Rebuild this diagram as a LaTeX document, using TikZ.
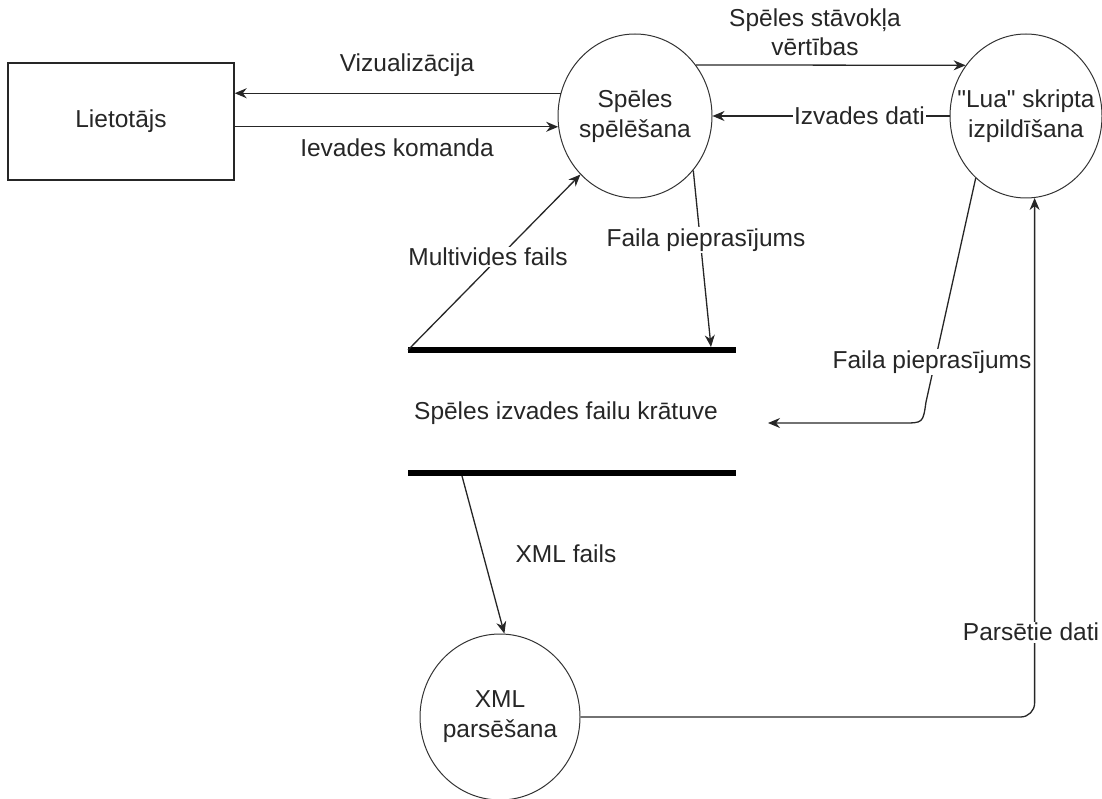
\documentclass[tikz,border=0pt]{standalone}
\usepackage{fontspec}
\newfontfamily\lib{Liberation Sans}
\usetikzlibrary{arrows.meta,shapes.geometric}
\begin{document}
\begin{tikzpicture}[x=1pt,y=-1pt,
  every node/.style={font=\lib\fontsize{24.5}{30}\selectfont, text=black!85},
  proc/.style={draw=black!80, line width=1pt, ellipse, align=center, inner xsep=-50pt, inner ysep=0pt},
  entity/.style={draw=black!85, line width=1.4pt, inner sep=0pt},
  flow/.style={draw=black!85, line width=1.3pt, -{Stealth[length=12pt,width=10pt]}},
  lbl/.style={fill=white, inner sep=1.5pt},
  bar/.style={line width=6pt, draw=black}]
\useasboundingbox (0,0) rectangle (1102,799);

% nodes
\node[entity, minimum width=226pt, minimum height=117pt] (user) at (121,121.5) {Lietotājs};
\node[proc, minimum width=154pt, minimum height=164pt] (play) at (635,116) {Spēles\\spēlēšana};
\node[proc, minimum width=152pt, minimum height=164pt] (lua) at (1026,116) {"Lua" skripta\\izpildīšana};
\node[proc, minimum width=160pt, minimum height=166pt] (xml) at (500,717) {XML\\parsēšana};

% data store
\coordinate (tl) at (408,350);
\coordinate (tr) at (736,350);
\coordinate (bl) at (408,473);
\coordinate (br) at (736,473);
\draw[bar] (tl) -- (tr);
\draw[bar] (bl) -- (br);
\node (store) at (566,413) {Spēles izvades failu krātuve};

\coordinate (fp1) at (711,347);
\coordinate (fp2) at (768,423);
\coordinate (xmlsrc) at (462,476);
\coordinate (fp2bend) at (926,402);

% connectors
\draw[flow] (play.163) -- (play.163 -| user.east);
\node at (407,65) {Vizualizācija};
\draw[flow] (play.188 -| user.east) -- (play.188);
\node at (397,148) {Ievades komanda};

\draw[flow] (play.40) -- (lua.140);
\node[align=center, font=\lib\fontsize{24.5}{29}\selectfont] at (815,32) {Spēles stāvokļa\\vērtības};

\draw[flow] (lua.west) -- node[lbl, pos=0.38] {Izvades dati} (play.east);

\draw[flow] (tl) -- (play.227);
\node[lbl] at (488,257) {Multivides fails};

\draw[flow] (play.-43) -- (fp1);
\node[lbl] at (706,240) {Faila pieprasījums};

\draw[flow] (lua.231) -- (fp2bend) .. controls (923,423) .. (903,423) -- (fp2);
\node[lbl] at (932,362) {Faila pieprasījums};

\draw[flow] (xmlsrc) -- (xml.87);
\node at (566,554) {XML fails};

\draw[flow, rounded corners=14pt] (xml.east) -| (lua.276);
\node[lbl] at (1031,632) {Parsētie dati};
\end{tikzpicture}
\end{document}
